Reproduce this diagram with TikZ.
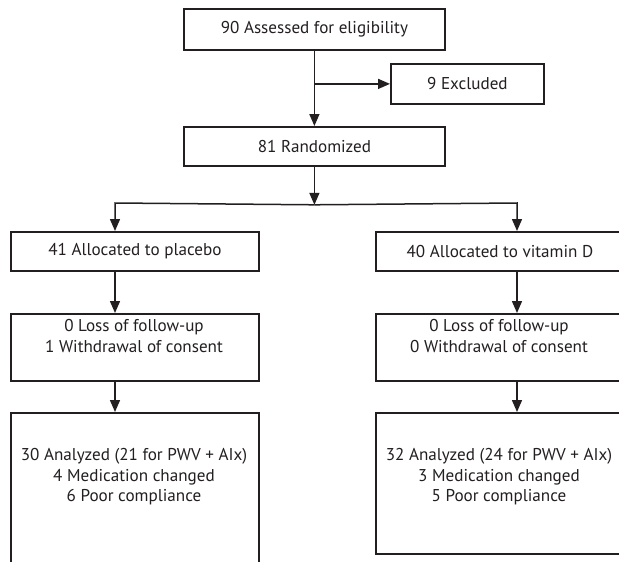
\documentclass[tikz,border=0pt]{standalone}
\usepackage{fontspec}
\setmainfont{PT Sans}
\usetikzlibrary{arrows.meta}
\definecolor{ink}{HTML}{231F20}
\begin{document}
\begin{tikzpicture}[x=1pt,y=-1pt,
  box/.style={draw=ink, line width=1.8pt, rectangle, inner sep=0pt, anchor=north west},
  txt/.style={text=ink, font=\fontsize{17.1}{20.6}\selectfont, align=center, inner sep=0pt},
  conn/.style={draw=ink, line width=1.5pt},
  arr/.style={conn, -{Triangle[length=12pt,width=10pt]}}]
\useasboundingbox (0,0) rectangle (619,562);
\clip (0,0) rectangle (619,562);
\fill[white] (0,0) rectangle (619,562);

\node[box, txt, minimum width=261pt, minimum height=41pt] (assess) at (183,8) {90 Assessed for eligibility};
\node[box, txt, minimum width=153pt, minimum height=40pt] (excl) at (390,63) {9 Excluded};
\node[box, txt, minimum width=261pt, minimum height=39pt] (rand) at (183,126) {81 Randomized};

\node[box, txt, minimum width=248pt, minimum height=39pt] (plac) at (10,231) {41 Allocated to placebo};
\node[box, txt, minimum width=248pt, minimum height=39pt] (vitd) at (375,231) {40 Allocated to vitamin D};

\node[box, minimum width=248pt, minimum height=67pt] (lossL) at (10,313) {};
\node[box, minimum width=248pt, minimum height=67pt] (lossR) at (375,313) {};
\node[txt] (tL2) at (134,336) {0 Loss of follow-up\\1 Withdrawal of consent};
\node[txt] (tR2) at (499,336) {0 Loss of follow-up\\0 Withdrawal of consent};

\node[box, minimum width=248pt, minimum height=170pt] (anaL) at (10,412) {};
\node[box, minimum width=248pt, minimum height=141pt] (anaR) at (375,412) {};
\node[txt] (tL3) at (134,477) {30 Analyzed (21 for PWV + AIx)\\4 Medication changed\\6 Poor compliance};
\node[txt] (tR3) at (499,477) {32 Analyzed (24 for PWV + AIx)\\3 Medication changed\\5 Poor compliance};

\draw[arr] (assess.south) -- (rand.north);
\draw[arr] (assess.south |- excl.west) -- (excl.west);
\path (rand.south) ++(0,38) coordinate (split);
\coordinate (L) at (115,203);
\coordinate (R) at (517,203);
\draw[arr] (rand.south) -- (split);
\draw[arr] (split) -- (L) -- (L |- plac.north);
\draw[arr] (split) -- (R) -- (R |- vitd.north);
\draw[arr] (L |- plac.south) -- (L |- lossL.north);
\draw[arr] (R |- vitd.south) -- (R |- lossR.north);
\draw[arr] (L |- lossL.south) -- (L |- anaL.north);
\draw[arr] (R |- lossR.south) -- (R |- anaR.north);
\end{tikzpicture}
\end{document}
